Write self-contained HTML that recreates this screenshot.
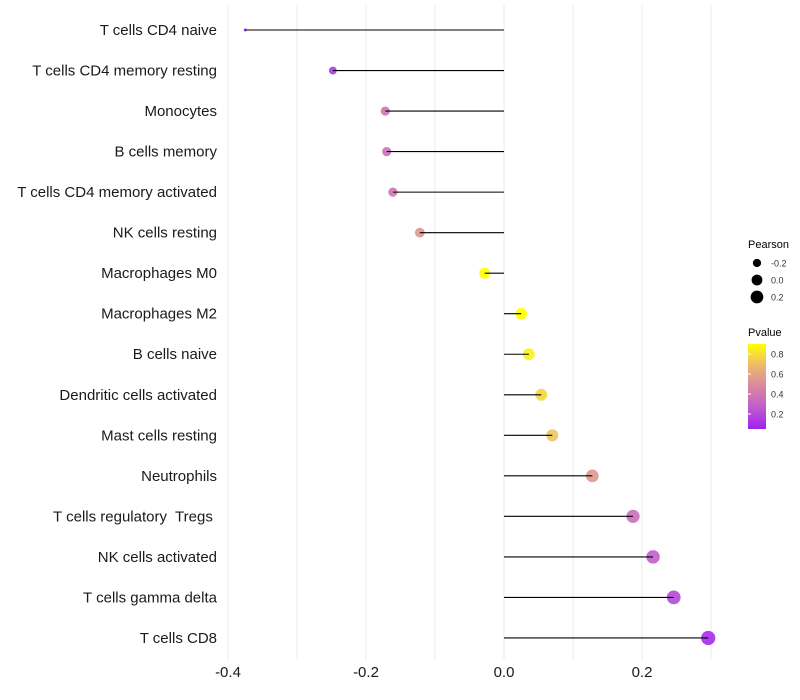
<!DOCTYPE html>
<html><head><meta charset="utf-8"><style>
body{margin:0;background:#fff;font-family:"Liberation Sans",sans-serif}
svg{display:block}
</style></head><body>
<svg id="chart" width="800" height="700" xmlns="http://www.w3.org/2000/svg">
<g id="grid"></g>
<g id="ylabels"></g>
<g id="marks"></g>
<g id="xlabels"></g>
<g id="legend"></g>
</svg>
<script>
const categories=["T cells CD4 naive","T cells CD4 memory resting","Monocytes","B cells memory","T cells CD4 memory activated","NK cells resting","Macrophages M0","Macrophages M2","B cells naive","Dendritic cells activated","Mast cells resting","Neutrophils","T cells regulatory  Tregs ","NK cells activated","T cells gamma delta","T cells CD8"];
const pearson=[-0.375,-0.248,-0.172,-0.170,-0.161,-0.122,-0.028,0.025,0.036,0.054,0.070,0.128,0.187,0.216,0.246,0.296];
const pvalue=[0.05,0.15,0.38,0.37,0.40,0.55,0.92,0.90,0.86,0.78,0.72,0.55,0.36,0.28,0.20,0.10];
const xTicks=[-0.4,-0.2,0.0,0.2];
const xTickLabels=["-0.4","-0.2","0.0","0.2"];
const sizeLegend=[-0.2,0.0,0.2];
const pLegend=[0.2,0.4,0.6,0.8];

const NS="http://www.w3.org/2000/svg";
function mk(tag,attrs,parent){const e=document.createElementNS(NS,tag);for(const k in attrs)e.setAttribute(k,attrs[k]);parent.appendChild(e);return e;}
const xScale=v=>504+v*690;
const yScale=i=>30+i*40.53;
const rScale=v=>1.5+5.6*Math.sqrt(Math.max(0,(v+0.375)/0.671));
const stops=[[0,[160,32,240]],[0.25,[192,92,205]],[0.5,[216,135,160]],[0.75,[238,185,110]],[1,[255,255,0]]];
function col(p){let t=(p-0.06)/(0.9-0.06);t=Math.max(0,Math.min(1,t));
 for(let i=1;i<stops.length;i++){if(t<=stops[i][0]){const a=stops[i-1],b=stops[i];const f=(t-a[0])/(b[0]-a[0]);
 const c=a[1].map((v,j)=>Math.round(v+(b[1][j]-v)*f));return `rgb(${c})`;}}return "rgb(255,255,0)";}

const grid=document.getElementById('grid');
for(let v=-0.4;v<=0.31;v+=0.1){const l=mk('line',{x1:xScale(v),x2:xScale(v),y1:5,y2:660,stroke:'#ebebeb','stroke-width':1},grid);

}

const yl=document.getElementById('ylabels'),marks=document.getElementById('marks');
categories.forEach((c,i)=>{
 const t=mk('text',{x:217,y:yScale(i)+5,'text-anchor':'end','font-size':15,fill:'#1a1a1a','xml:space':'preserve',style:'white-space:pre'},yl);t.textContent=c;
 
 
 const cx=xScale(pearson[i]);
 const d=mk('circle',{cx:cx,cy:yScale(i),r:rScale(pearson[i]),fill:col(pvalue[i]),'fill-opacity':0.9},marks);
 
 
 const s=mk('line',{x1:xScale(0),x2:cx,y1:yScale(i),y2:yScale(i),stroke:'#000','stroke-width':1.1},marks);
 
 
});
const xl=document.getElementById('xlabels');
xTicks.forEach((v,i)=>{const t=mk('text',{x:xScale(v),y:677,'text-anchor':'middle','font-size':15,fill:'#1a1a1a'},xl);t.textContent=xTickLabels[i];
 
 });

const lg=document.getElementById('legend');
let t=mk('text',{x:748,y:248,'font-size':11,fill:'#000'},lg);t.textContent="Pearson";


sizeLegend.forEach((v,i)=>{const y=263+i*17;
 const c=mk('circle',{cx:757,cy:y,r:rScale(v)*0.95,fill:'#000'},lg);
 
 
 const tt=mk('text',{x:771,y:y+3.5,'font-size':9,fill:'#333'},lg);tt.textContent=v.toFixed(1);
 
 });
t=mk('text',{x:748,y:336,'font-size':11,fill:'#000'},lg);t.textContent="Pvalue";


const defs=mk('defs',{},document.getElementById('chart'));
const g=mk('linearGradient',{id:'pg',x1:0,y1:1,x2:0,y2:0},defs);
stops.forEach(s=>mk('stop',{offset:s[0],'stop-color':`rgb(${s[1]})`},g));
const bar=mk('rect',{x:748,y:344,width:18,height:85,fill:'url(#pg)'},lg);


pLegend.forEach(v=>{const y=344+(0.9-v)*100;
 const tk=mk('line',{x1:748,x2:751,y1:y,y2:y,stroke:'#fff','stroke-width':1},lg);
 
 
 const tt=mk('text',{x:771,y:y+3.5,'font-size':9,fill:'#333'},lg);tt.textContent=v.toFixed(1);
 
 });
</script>
</body></html>
